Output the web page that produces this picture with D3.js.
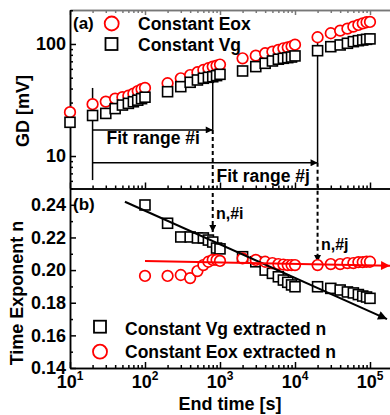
<!DOCTYPE html>
<html>
<head>
<meta charset="utf-8">
<script src="https://cdn.jsdelivr.net/npm/d3@7"></script>
<style>
body { margin: 0; background: #fff; }
text { font-family: "Liberation Sans", Arial, sans-serif; font-weight: bold; fill: #000; }
</style>
</head>
<body>
<div id="chart"></div>
<script>
// measurement end times (s)
var tA = [10, 20, 30, 40, 50, 60, 70, 80, 90, 100,
          200, 300, 400, 500, 600, 700, 800, 900, 1000,
          2000, 3000, 4000, 5000, 6000, 7000, 8000, 9000, 10000,
          20000, 30000, 40000, 50000, 60000, 70000, 80000, 90000, 100000];
// GD [mV]
var gdEox = [24.6, 29.0, 30.6, 32.5, 33.5, 34.5, 36.0, 38.0, 39.5, 40.5,
             44.6, 49.4, 52.8, 55.9, 58.6, 60.7, 62.8, 64.1, 65.5,
             74.5, 78.7, 82.6, 85.4, 88.4, 91.5, 93.3, 95.3, 98.5,
             114.8, 124.6, 131.5, 137.0, 142.7, 147.8, 153.0, 156.2, 157.2];
var gdVg = [20.0, 23.0, 24.0, 26.5, 28.5, 29.5, 30.5, 31.5, 32.5, 33.5,
            37.5, 41.6, 45.5, 47.7, 49.4, 50.4, 51.0, 52.2, 53.6,
            57.4, 62.8, 67.2, 70.5, 73.1, 74.5, 75.5, 76.5, 78.2,
            87.1, 94.6, 98.0, 101.4, 104.9, 107.0, 108.5, 110.0, 111.0];

// extracted time exponent n, fit end times
var tB = [100, 200, 300, 400, 500, 600, 700, 800, 900, 1000,
          2000, 3000, 4000, 5000, 6000, 7000, 8000, 9000, 10000,
          20000, 30000, 40000, 50000, 60000, 70000, 80000, 90000, 100000];
var nVg = [0.2399, 0.2287, 0.2203, 0.2203, 0.2197, 0.2197, 0.2184, 0.2172, 0.2135, 0.2130,
           0.2082, 0.2051, 0.2000, 0.1980, 0.1959, 0.1939, 0.1925, 0.1909, 0.1898,
           0.1898, 0.1888, 0.1878, 0.1866, 0.1860, 0.1850, 0.1841, 0.1835, 0.1827];
var nEox = [0.1964, 0.1964, 0.1970, 0.1951, 0.1994, 0.2031, 0.2051, 0.2062, 0.2062, 0.2056,
            0.2072, 0.2062, 0.2051, 0.2043, 0.2037, 0.2034, 0.2031, 0.2031, 0.2031,
            0.2031, 0.2037, 0.2037, 0.2043, 0.2043, 0.2049, 0.2049, 0.2051, 0.2051];

// trend lines [time, n]
var fitVg = [[54, 0.2419], [168600, 0.1700]];
var fitEox = [[100, 0.2055], [185000, 0.2027]];

// fit range annotations
var fitStart = 20, fitEndI = 800, fitEndJ = 20000;

var majorT = [10, 100, 1000, 10000, 100000];
var expT = ["1", "2", "3", "4", "5"];

var width = 390, height = 415;

var svg = d3.select("#chart").append("svg")
    .attr("width", width)
    .attr("height", height);

var defs = svg.append("defs");
function arrowHead(id, color, w, h) {
  defs.append("marker")
      .attr("id", id)
      .attr("markerUnits", "userSpaceOnUse")
      .attr("viewBox", "0 0 10 10")
      .attr("refX", 10).attr("refY", 5)
      .attr("markerWidth", w).attr("markerHeight", h)
      .attr("orient", "auto")
    .append("path")
      .attr("d", "M0,0L10,5L0,10Z")
      .attr("fill", color);
}
arrowHead("ahBlack", "#000", 11, 9);
arrowHead("ahRed", "#f00", 11, 9);
arrowHead("ahSmall", "#000", 8, 7);
arrowHead("ahDown", "#000", 9, 7);

// 75 px per decade, 10^1 at x=70; axis runs past the right edge of the picture
var x = d3.scaleLog().domain([10, 1e5]).range([70, 370]);
var xEnd = x(2e5);
x.domain([10, 2e5]).range([70, xEnd]);

var yA = d3.scaleLog().domain([5.13, 201]).range([188.5, 10]);
var yB = d3.scaleLinear().domain([0.14, 0.25]).range([368, 188.5]);

var minorT = [];
majorT.forEach(function (m) {
  for (var k = 2; k <= 9; k++) if (m * k <= 2e5) minorT.push(m * k);
});

// ---- axes ----
function styleAxis(g, col) {
  g.selectAll("path,line").attr("stroke", col || "#000").attr("stroke-width", 1.5);
  g.selectAll("text").remove();
}

// panel (b) bottom
svg.append("g").attr("transform", "translate(0,368)")
    .call(d3.axisBottom(x).tickValues(minorT).tickSize(-3).tickSizeOuter(0).tickFormat(""))
    .call(styleAxis);
svg.append("g").attr("transform", "translate(0,368)")
    .call(d3.axisBottom(x).tickValues(majorT).tickSize(-6).tickSizeOuter(0).tickFormat(""))
    .call(styleAxis);

// panel (a) bottom (shared border)
svg.append("g").attr("transform", "translate(0,188.5)")
    .call(d3.axisBottom(x).tickValues(minorT).tickSize(-3).tickSizeOuter(0).tickFormat(""))
    .call(styleAxis);
svg.append("g").attr("transform", "translate(0,188.5)")
    .call(d3.axisBottom(x).tickValues(majorT).tickSize(-6).tickSizeOuter(0).tickFormat(""))
    .call(styleAxis);

// panel (a) top
svg.append("g").attr("transform", "translate(0,10)")
    .call(d3.axisTop(x).tickValues(minorT).tickSize(-3).tickSizeOuter(0).tickFormat(""))
    .call(styleAxis, "#777");
svg.append("g").attr("transform", "translate(0,10)")
    .call(d3.axisTop(x).tickValues(majorT).tickSize(-5).tickSizeOuter(0).tickFormat(""))
    .call(styleAxis, "#777");

// x labels
var xl = svg.append("g").selectAll("text")
    .data(majorT).enter().append("text")
    .attr("x", function (d) { return x(d); })
    .attr("y", 388)
    .attr("text-anchor", "middle")
    .style("font-size", "18px");
xl.append("tspan").text("10");
xl.append("tspan").attr("dy", -8).style("font-size", "12px")
    .text(function (d, i) { return expT[i]; });

// y axis (a)
var yAminor = [6, 7, 8, 9, 20, 30, 40, 50, 60, 70, 80, 90, 200];
svg.append("g").attr("transform", "translate(70,0)")
    .call(d3.axisLeft(yA).tickValues(yAminor).tickSize(-3).tickSizeOuter(0).tickFormat(""))
    .call(styleAxis);
svg.append("g").attr("transform", "translate(70,0)")
    .call(d3.axisLeft(yA).tickValues([10, 100]).tickSize(-6).tickSizeOuter(0).tickFormat(""))
    .call(styleAxis);
svg.append("g").selectAll("text")
    .data([10, 100]).enter().append("text")
    .attr("x", 66).attr("y", function (d) { return yA(d); })
    .attr("dy", "0.35em")
    .attr("text-anchor", "end")
    .style("font-size", "18px")
    .text(function (d) { return d; });

// y axis (b)
var yBmajor = [0.14, 0.16, 0.18, 0.20, 0.22, 0.24];
var yBminor = [0.15, 0.17, 0.19, 0.21, 0.23, 0.25];
svg.append("g").attr("transform", "translate(70,0)")
    .call(d3.axisLeft(yB).tickValues(yBminor).tickSize(-3).tickSizeOuter(0).tickFormat(""))
    .call(styleAxis);
svg.append("g").attr("transform", "translate(70,0)")
    .call(d3.axisLeft(yB).tickValues(yBmajor).tickSize(-6).tickSizeOuter(0).tickFormat(""))
    .call(styleAxis);
svg.append("g").selectAll("text")
    .data(yBmajor).enter().append("text")
    .attr("x", 66).attr("y", function (d) { return yB(d); })
    .attr("dy", "0.35em")
    .attr("text-anchor", "end")
    .style("font-size", "18px")
    .text(d3.format(".2f"));

// axis titles
svg.append("text")
    .attr("transform", "translate(28.5,111) rotate(-90)")
    .attr("text-anchor", "middle")
    .style("font-size", "18px")
    .text("GD [mV]");
svg.append("text")
    .attr("transform", "translate(23,293) rotate(-90)")
    .attr("text-anchor", "middle")
    .style("font-size", "18px")
    .text("Time Exponent n");
svg.append("text")
    .attr("x", 230).attr("y", 410)
    .attr("text-anchor", "middle")
    .style("font-size", "18px")
    .text("End time [s]");

// ---- panel (a) annotations ----
var ann = svg.append("g").attr("stroke", "#000");
ann.append("line")
    .attr("x1", x(fitStart)).attr("x2", x(fitStart))
    .attr("y1", yA(40.5)).attr("y2", yA(6.1))
    .attr("stroke-width", 1.5);
ann.append("line")
    .attr("x1", x(fitStart)).attr("x2", x(fitEndI))
    .attr("y1", yA(17.1)).attr("y2", yA(17.1))
    .attr("stroke-width", 1.5)
    .attr("marker-end", "url(#ahSmall)");
ann.append("line")
    .attr("x1", x(fitStart)).attr("x2", x(fitEndJ))
    .attr("y1", yA(8.7)).attr("y2", yA(8.7))
    .attr("stroke-width", 1.5)
    .attr("marker-end", "url(#ahSmall)");
// solid verticals at fit ends
ann.append("line")
    .attr("x1", x(fitEndI)).attr("x2", x(fitEndI))
    .attr("y1", yA(63)).attr("y2", yA(17.1))
    .attr("stroke-width", 1.5);
ann.append("line")
    .attr("x1", x(fitEndJ)).attr("x2", x(fitEndJ))
    .attr("y1", yA(128.8)).attr("y2", yA(8.7))
    .attr("stroke-width", 1.5);
// dashed drops into panel (b)
ann.append("line")
    .attr("x1", x(fitEndI)).attr("x2", x(fitEndI))
    .attr("y1", yA(17.1)).attr("y2", yB(0.2233))
    .attr("stroke-width", 2).attr("stroke-dasharray", "4,3")
    .attr("marker-end", "url(#ahDown)");
ann.append("line")
    .attr("x1", x(fitEndJ)).attr("x2", x(fitEndJ))
    .attr("y1", yA(8.7)).attr("y2", yB(0.2050))
    .attr("stroke-width", 2).attr("stroke-dasharray", "4,3")
    .attr("marker-end", "url(#ahDown)");

svg.append("text").attr("x", 106.5).attr("y", 144)
    .style("font-size", "17.5px").text("Fit range #i");
svg.append("text").attr("x", 216.5).attr("y", 182)
    .style("font-size", "17.5px").text("Fit range #j");
svg.append("text").attr("x", 216).attr("y", 219)
    .style("font-size", "16px").text("n,#i");
svg.append("text").attr("x", 321).attr("y", 250)
    .style("font-size", "16px").text("n,#j");

// ---- panel (a) data ----
svg.append("g").selectAll("circle")
    .data(tA).enter().append("circle")
    .attr("cx", function (d) { return x(d); })
    .attr("cy", function (d, i) { return yA(gdEox[i]); })
    .attr("r", 5.3)
    .attr("fill", "#fff").attr("stroke", "#f00").attr("stroke-width", 1.7);
svg.append("g").selectAll("rect")
    .data(tA).enter().append("rect")
    .attr("x", function (d) { return x(d) - 5; })
    .attr("y", function (d, i) { return yA(gdVg[i]) - 5; })
    .attr("width", 10).attr("height", 10)
    .attr("fill", "#fff").attr("stroke", "#000").attr("stroke-width", 1.6);

// ---- panel (b) data ----
svg.append("g").selectAll("rect")
    .data(tB).enter().append("rect")
    .attr("x", function (d) { return x(d) - 5; })
    .attr("y", function (d, i) { return yB(nVg[i]) - 5; })
    .attr("width", 10).attr("height", 10)
    .attr("fill", "#fff").attr("stroke", "#000").attr("stroke-width", 1.6);
svg.append("g").selectAll("circle")
    .data(tB).enter().append("circle")
    .attr("cx", function (d) { return x(d); })
    .attr("cy", function (d, i) { return yB(nEox[i]); })
    .attr("r", 5.3)
    .attr("fill", "#fff").attr("stroke", "#f00").attr("stroke-width", 1.7);

var fitLine = d3.line()
    .x(function (d) { return x(d[0]); })
    .y(function (d) { return yB(d[1]); });
svg.append("path").datum(fitVg)
    .attr("d", fitLine)
    .attr("fill", "none").attr("stroke", "#000").attr("stroke-width", 2)
    .attr("marker-end", "url(#ahBlack)");
svg.append("path").datum(fitEox)
    .attr("d", fitLine)
    .attr("fill", "none").attr("stroke", "#f00").attr("stroke-width", 2)
    .attr("marker-end", "url(#ahRed)");

// ---- panel labels and legends ----
svg.append("text").attr("x", 73).attr("y", 29).style("font-size", "17px").text("(a)");
svg.append("text").attr("x", 73).attr("y", 210).style("font-size", "17px").text("(b)");

var legA = svg.append("g");
legA.append("circle").attr("cx", 111.7).attr("cy", 23.5).attr("r", 7)
    .attr("fill", "none").attr("stroke", "#f00").attr("stroke-width", 1.8);
legA.append("rect").attr("x", 105.5).attr("y", 38).attr("width", 12).attr("height", 12)
    .attr("fill", "none").attr("stroke", "#000").attr("stroke-width", 1.8);
legA.append("text").attr("x", 138).attr("y", 30).style("font-size", "17.5px").text("Constant Eox");
legA.append("text").attr("x", 138).attr("y", 51).style("font-size", "17.5px").text("Constant Vg");

var legB = svg.append("g");
legB.append("rect").attr("x", 94).attr("y", 320.7).attr("width", 12).attr("height", 12)
    .attr("fill", "none").attr("stroke", "#000").attr("stroke-width", 1.8);
legB.append("circle").attr("cx", 100).attr("cy", 351.7).attr("r", 7)
    .attr("fill", "none").attr("stroke", "#f00").attr("stroke-width", 1.8);
legB.append("text").attr("x", 125).attr("y", 335).style("font-size", "17.5px").text("Constant Vg extracted n");
legB.append("text").attr("x", 125).attr("y", 358).style("font-size", "17.5px").text("Constant Eox extracted n");
</script>
</body>
</html>
